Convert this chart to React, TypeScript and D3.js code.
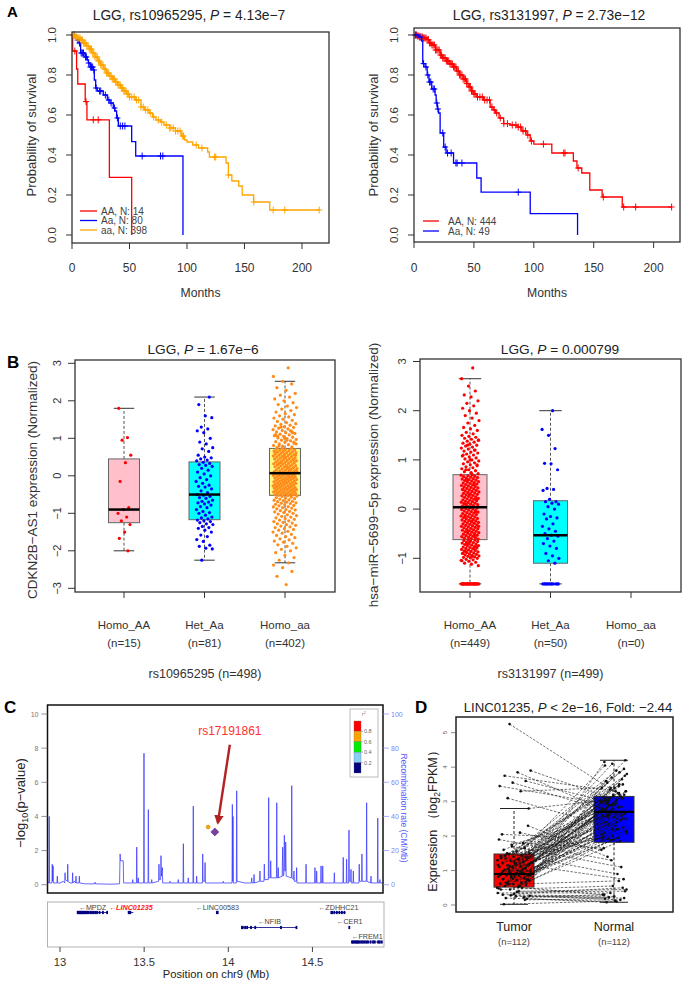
import React from "react";
import * as d3 from "d3";

const FONT = "'Liberation Sans', Arial, Helvetica, sans-serif";

// ---------------- Panel A data ----------------
const monthTicks = [0, 50, 100, 150, 200];
const survTicks = [0, 0.2, 0.4, 0.6, 0.8, 1.0];

const a1AA_t = [0, 0.6, 4, 5, 11.5, 13, 32.5, 51.9];
const a1AA_s = [1, 0.92, 0.83, 0.755, 0.667, 0.576, 0.288, 0];
const a1AA_c = [2.5, 12.2, 18.5, 22.8];

const a1Aa_t = [0, 3, 4.1, 6.1, 7.5, 11.3, 13.3, 14.2, 15.7, 18.6, 19.4, 20.6, 22, 27.2, 30.7, 33, 35.9, 37.4, 38.8, 40.3, 51.9, 55.4, 96.5];
const a1Aa_s = [1, 0.99, 0.975, 0.96, 0.91, 0.89, 0.875, 0.86, 0.84, 0.825, 0.775, 0.735, 0.72, 0.7, 0.675, 0.66, 0.635, 0.62, 0.585, 0.545, 0.467, 0.395, 0];
const a1Aa_c = [2, 5, 6.5, 8, 9, 10, 11.8, 12.5, 14.5, 16, 17, 18, 19, 21, 24, 25, 29, 32, 34, 37, 39.5, 42, 44, 46, 61, 77, 79];

const a1aa_t = [0, 2.5, 5, 7.5, 10, 12.5, 15, 17.5, 20, 22.5, 25, 27.5, 30, 32.5, 35, 37.5, 40, 42.5, 45, 47.5, 50, 55, 60, 63, 67, 70, 73, 77, 80, 85, 90, 95, 98, 100, 105, 110, 118, 119.5, 134, 136, 139, 145, 148, 158, 172];
const a1aa_s = [1, 0.99, 0.985, 0.975, 0.96, 0.945, 0.93, 0.91, 0.89, 0.87, 0.85, 0.83, 0.81, 0.795, 0.78, 0.765, 0.75, 0.735, 0.72, 0.705, 0.69, 0.675, 0.64, 0.625, 0.61, 0.59, 0.575, 0.565, 0.55, 0.535, 0.52, 0.495, 0.475, 0.465, 0.45, 0.435, 0.415, 0.39, 0.36, 0.3, 0.27, 0.245, 0.2, 0.165, 0.125];
const a1aa_c = [1, 2, 3, 4, 5, 6, 7, 8, 9, 10, 11, 12, 13, 14, 15, 16, 17, 18, 19, 20, 21, 22, 23, 24, 25, 26, 27, 28, 29, 30, 31, 32, 33, 34, 35, 36, 37, 38, 39, 40, 41, 42, 43, 44, 45, 46, 47, 48, 49, 50, 52, 54, 56, 58, 60, 62, 64, 66, 68, 71, 75, 78, 82, 85, 86, 88, 90, 92, 94, 96, 97, 108, 113, 124, 125, 136, 158, 175, 185, 215];

const a2AA_t = [0, 2.5, 5, 7.5, 10.6, 13, 15, 18, 21.8, 24, 27, 30, 33, 35.5, 38, 41, 44, 46, 48, 50, 52.4, 58, 63.6, 66, 68, 71, 74.8, 80, 86, 90, 94.3, 97, 100, 115, 133, 136, 140, 146.7, 157, 173.8];
const a2AA_s = [1, 0.995, 0.99, 0.985, 0.977, 0.96, 0.95, 0.925, 0.9, 0.885, 0.87, 0.855, 0.84, 0.82, 0.8, 0.78, 0.757, 0.74, 0.72, 0.705, 0.69, 0.675, 0.64, 0.625, 0.61, 0.585, 0.557, 0.55, 0.54, 0.52, 0.5, 0.47, 0.454, 0.41, 0.37, 0.335, 0.31, 0.225, 0.19, 0.14];
const a2AA_c = [1, 2, 3, 4, 5, 6, 7, 8, 9, 10, 11, 12, 13, 14, 15, 16, 17, 18, 19, 20, 21, 22, 23, 24, 25, 26, 27, 28, 29, 30, 31, 32, 33, 34, 35, 36, 37, 38, 39, 40, 41, 42, 43, 44, 45, 46, 47, 48, 49, 50, 51, 53, 55, 57, 59, 61, 63, 65, 67, 69, 72, 75, 78, 82, 85, 87, 89, 91, 93, 95, 98, 108, 125, 126, 137, 158, 175, 185, 215];

const a2Aa_t = [0, 4, 6.4, 7.3, 9.2, 11, 12.5, 14.8, 17.6, 18.5, 19.5, 20.5, 21.8, 24.8, 26.8, 33, 52.4, 56, 97, 136.5];
const a2Aa_s = [1, 0.99, 0.97, 0.857, 0.84, 0.8, 0.765, 0.73, 0.7, 0.66, 0.63, 0.61, 0.51, 0.44, 0.41, 0.36, 0.285, 0.214, 0.107, 0];
const a2Aa_c = [1.5, 5, 8, 10, 11.5, 13, 14, 16, 17, 19, 20, 24, 26, 28, 31, 35, 36, 40, 87];

const a1Legend = ["AA, N: 14", "Aa, N: 80", "aa, N: 398"];
const a2Legend = ["AA, N: 444", "Aa, N: 49"];

// ---------------- Panel B data ----------------
const bCats = ["Homo_AA", "Het_Aa", "Homo_aa"];
const bLeftN = ["(n=15)", "(n=81)", "(n=402)"];
const bRightN = ["(n=449)", "(n=50)", "(n=0)"];
const bLeftTicks = [-3, -2, -1, 0, 1, 2, 3];
const bRightTicks = [-1, 0, 1, 2, 3];

const bLeftLow = [-2.0, -2.25, -2.32];
const bLeftQ1 = [-1.25, -1.17, -0.52];
const bLeftMed = [-0.9, -0.5, 0.07];
const bLeftQ3 = [0.45, 0.37, 0.73];
const bLeftHigh = [1.8, 2.1, 2.52];

const bRightLow = [-1.52, -1.52];
const bRightQ1 = [-0.62, -1.1];
const bRightMed = [0.04, -0.53];
const bRightQ3 = [0.7, 0.17];
const bRightHigh = [2.65, 2.0];

const bL_AA = [1.8, 1.02, 0.95, 0.55, 0.35, -0.15, -0.85, -0.9, -1.0, -1.1, -1.2, -1.3, -1.5, -1.67, -2.0];
const bL_Aa = [-2.25, -1.95, -1.93, -1.88, -1.85, -1.75, -1.7, -1.62, -1.58, -1.5, -1.45, -1.4, -1.38, -1.35, -1.3, -1.28, -1.25, -1.22, -1.2, -1.18,
  -1.15, -1.12, -1.1, -1.05, -1.0, -0.98, -0.95, -0.9, -0.85, -0.82, -0.78, -0.75, -0.72, -0.7, -0.68, -0.65, -0.6, -0.58, -0.55, -0.52, -0.5,
  -0.45, -0.4, -0.35, -0.3, -0.28, -0.25, -0.2, -0.15, -0.1, -0.05, 0.0, 0.05, 0.1, 0.15, 0.2, 0.25, 0.28, 0.3, 0.33, 0.36,
  0.4, 0.42, 0.45, 0.48, 0.5, 0.55, 0.65, 0.72, 0.75, 0.85, 0.9, 1.0, 1.15, 1.2, 1.25, 1.3, 1.55, 1.6, 1.9, 2.1];
const bL_aa = [-2.9, -2.68, -2.55, -2.45, -2.38, -2.32, -2.25, -2.18, -2.12, -2.05, -2.0, -1.96, -1.92, -1.88, -1.84, -1.8, -1.77, -1.74, -1.71, -1.68,
  -1.65, -1.62, -1.59, -1.56, -1.53, -1.5, -1.48, -1.45, -1.43, -1.41, -1.38, -1.36, -1.34, -1.32, -1.3, -1.28, -1.26, -1.24, -1.22, -1.2,
  -1.18, -1.16, -1.14, -1.12, -1.1, -1.08, -1.06, -1.04, -1.02, -1.0, -0.98, -0.96, -0.95, -0.93, -0.91, -0.9, -0.88, -0.86, -0.85, -0.83,
  -0.82, -0.8, -0.79, -0.77, -0.76, -0.74, -0.73, -0.72, -0.7, -0.69, -0.68, -0.66, -0.65, -0.64, -0.62, -0.61, -0.6, -0.58, -0.57, -0.55,
  -0.54, -0.53, -0.52, -0.51, -0.5, -0.5, -0.49, -0.48, -0.47, -0.47, -0.46, -0.45, -0.44, -0.43, -0.43, -0.42, -0.41, -0.4, -0.39, -0.39,
  -0.38, -0.37, -0.36, -0.35, -0.35, -0.34, -0.33, -0.32, -0.31, -0.31, -0.3, -0.29, -0.28, -0.27, -0.27, -0.26, -0.25, -0.24, -0.23, -0.23,
  -0.22, -0.21, -0.2, -0.19, -0.19, -0.18, -0.17, -0.16, -0.15, -0.15, -0.14, -0.13, -0.12, -0.11, -0.11, -0.1, -0.09, -0.08, -0.07, -0.07,
  -0.06, -0.05, -0.04, -0.03, -0.03, -0.02, -0.01, 0.0, 0.01, 0.01, 0.02, 0.03, 0.04, 0.05, 0.05, 0.06, 0.07, 0.07,
  0.08, 0.09, 0.1, 0.11, 0.12, 0.13, 0.14, 0.15, 0.16, 0.17, 0.18, 0.19, 0.2, 0.21, 0.22, 0.23, 0.24, 0.25, 0.26, 0.27,
  0.28, 0.29, 0.3, 0.31, 0.32, 0.33, 0.34, 0.35, 0.36, 0.37, 0.38, 0.39, 0.4, 0.41, 0.42, 0.43, 0.44, 0.45, 0.46, 0.47,
  0.48, 0.49, 0.5, 0.51, 0.52, 0.53, 0.54, 0.55, 0.56, 0.57, 0.58, 0.59, 0.6, 0.61, 0.62, 0.63, 0.64, 0.65, 0.66, 0.67,
  0.68, 0.69, 0.7, 0.71, 0.72, 0.73, 0.12, 0.22, 0.32, 0.42, 0.52, 0.62, 0.15, 0.35, 0.55, 0.25,
  0.75, 0.77, 0.79, 0.81, 0.83, 0.85, 0.87, 0.89, 0.91, 0.93, 0.95, 0.97, 0.99, 1.01, 1.03, 1.05, 1.07, 1.09, 1.11, 1.13,
  1.15, 1.17, 1.19, 1.21, 1.23, 1.25, 1.27, 1.29, 1.31, 1.33, 1.35, 1.37, 1.39, 1.42, 1.45, 1.48, 1.51, 1.54, 1.57, 1.6,
  1.63, 1.66, 1.7, 1.74, 1.78, 1.82, 1.86, 1.9, 1.95, 2.0, 2.05, 2.1, 2.15, 2.2, 2.28, 2.35, 2.45, 2.52, 2.65, 2.88,
  0.8, 0.9, 1.0, 1.1, 1.2, 1.3, 0.85, 0.95, 1.05, 1.15];

const bR_AA = [-1.52, -1.52, -1.52, -1.52, -1.52, -1.52, -1.52, -1.52, -1.52, -1.52, -1.52, -1.52, -1.52, -1.52, -1.52, -1.52, -1.52, -1.52, -1.52, -1.52, -1.52, -1.52, -1.52, -1.52,
  -1.15, -1.12, -1.1, -1.08, -1.06, -1.05, -1.03, -1.02, -1.0, -0.99, -0.98, -0.97, -0.96, -0.95, -0.94, -0.93, -0.92, -0.91, -0.9, -0.89,
  -0.88, -0.87, -0.86, -0.85, -0.84, -0.83, -0.82, -0.81, -0.8, -0.79, -0.78, -0.77, -0.76, -0.75, -0.74, -0.73, -0.72, -0.71, -0.7, -0.69,
  -0.68, -0.67, -0.66, -0.65, -0.64, -0.63, -0.62, -1.04, -0.96, -0.86, -0.76, -0.66, -0.9, -0.8, -0.7,
  -0.61, -0.6, -0.59, -0.58, -0.57, -0.56, -0.55, -0.54, -0.53, -0.52, -0.51, -0.5, -0.49, -0.48, -0.47, -0.46, -0.45, -0.44, -0.43, -0.42,
  -0.41, -0.4, -0.39, -0.38, -0.37, -0.36, -0.35, -0.34, -0.33, -0.32, -0.31, -0.3, -0.29, -0.28, -0.27, -0.26, -0.25, -0.24, -0.23, -0.22,
  -0.21, -0.2, -0.19, -0.18, -0.17, -0.16, -0.15, -0.14, -0.13, -0.12, -0.11, -0.1, -0.09, -0.08, -0.07, -0.06, -0.05, -0.04, -0.03, -0.02,
  -0.01, 0.0, 0.01, 0.02, 0.03, 0.04, -0.55, -0.45, -0.35, -0.25, -0.15, -0.05,
  0.05, 0.06, 0.07, 0.08, 0.09, 0.1, 0.11, 0.12, 0.13, 0.14, 0.15, 0.16, 0.17, 0.18, 0.19, 0.2, 0.21, 0.22, 0.23, 0.24,
  0.25, 0.26, 0.27, 0.28, 0.29, 0.3, 0.31, 0.32, 0.33, 0.34, 0.35, 0.36, 0.37, 0.38, 0.39, 0.4, 0.41, 0.42, 0.43, 0.44,
  0.45, 0.46, 0.47, 0.48, 0.49, 0.5, 0.51, 0.52, 0.53, 0.54, 0.55, 0.56, 0.57, 0.58, 0.59, 0.6, 0.61, 0.62, 0.63, 0.64,
  0.65, 0.66, 0.67, 0.68, 0.69, 0.7, 0.1, 0.2, 0.3, 0.4, 0.5, 0.6,
  0.72, 0.74, 0.76, 0.78, 0.8, 0.82, 0.84, 0.86, 0.88, 0.9, 0.92, 0.94, 0.96, 0.98, 1.0, 1.02, 1.04, 1.06, 1.08, 1.1,
  1.12, 1.14, 1.16, 1.18, 1.2, 1.22, 1.24, 1.26, 1.28, 1.3, 1.32, 1.34, 1.36, 1.38, 1.4, 1.42, 1.44, 1.46, 1.48, 1.5,
  1.53, 1.56, 1.6, 1.63, 1.66, 1.7, 1.75, 1.8, 1.85, 1.9, 1.95, 2.0, 2.05, 2.1, 2.15, 2.2, 2.28, 2.32, 2.4, 2.5,
  2.65, 2.87, 0.8, 0.9, 1.0, 1.1, 1.2, 1.3, 1.4];
const bR_Aa = [-1.52, -1.52, -1.52, -1.52, -1.52, -1.52, -1.52, -1.52, -1.52, -1.52, -1.52, -1.52,
  -1.1, -1.05, -1.0, -0.95, -0.9, -0.8, -0.75, -0.7, -0.65, -0.6, -0.55, -0.53, -0.5, -0.45, -0.4, -0.35, -0.3, -0.2, -0.18, -0.15, -0.1,
  0.0, 0.05, 0.1, 0.12, 0.15, 0.15, 0.2, 0.38, 0.4, 0.42, 0.8, 0.92, 0.93, 1.23, 1.5, 1.62, 2.0];

// ---------------- Panel C data ----------------
const cPTicks = [0, 2, 4, 6, 8, 10];
const cRTicks = [0, 20, 40, 60, 80, 100];
const cXTicks = [13, 13.5, 14, 14.5];
const cXTickLabels = ["13", "13.5", "14", "14.5"];
const snpPos = [13.88, 13.92];
const snpLogP = [3.38, 3.09];
const snpColor = ["#FFA500", "#7B3FA0"];
const ldColors = ["#FF0000", "#FFA500", "#00EE00", "#87CEFA", "#000080"];
const ldLabels = ["0.8", "0.6", "0.4", "0.2"];

const recombination: [number, number][] = [
  [12.924, 3], [12.93, 1], [12.934, 1], [12.936, 40], [12.938, 1], [12.952, 1], [12.954, 12], [12.956, 2], [12.959, 11], [12.961, 1],
  [12.982, 1], [12.984, 5], [12.986, 1], [13.0, 1], [13.02, 2], [13.028, 1], [13.03, 7], [13.032, 3], [13.044, 2], [13.046, 12], [13.048, 2],
  [13.06, 1], [13.073, 1], [13.075, 7], [13.077, 1], [13.085, 2], [13.093, 1], [13.095, 5], [13.097, 1], [13.113, 1], [13.115, 5], [13.117, 1],
  [13.15, 0.5], [13.206, 0.5], [13.208, 1.5], [13.21, 0.5], [13.3, 0.3], [13.354, 0.5], [13.357, 18], [13.36, 14], [13.376, 14], [13.378, 1],
  [13.43, 1], [13.432, 3], [13.434, 1], [13.454, 1], [13.456, 22], [13.458, 1], [13.463, 1], [13.465, 4], [13.467, 1], [13.497, 1], [13.499, 77],
  [13.501, 1], [13.523, 1], [13.525, 44], [13.527, 1], [13.543, 1], [13.545, 3], [13.547, 1], [13.586, 2], [13.588, 12], [13.59, 3], [13.598, 3],
  [13.6, 17], [13.603, 5], [13.608, 10], [13.61, 1], [13.652, 1], [13.654, 2], [13.656, 1], [13.7, 1], [13.703, 3], [13.705, 1], [13.731, 1],
  [13.733, 24], [13.735, 1], [13.76, 1], [13.762, 4], [13.764, 1], [13.79, 1], [13.792, 46], [13.794, 1], [13.81, 1], [13.812, 5], [13.814, 1],
  [13.846, 1], [13.848, 18], [13.85, 2], [13.86, 2], [13.862, 13], [13.864, 1], [13.9, 1], [13.968, 1], [13.97, 2], [13.972, 1], [14.022, 1],
  [14.024, 47], [14.026, 2], [14.028, 40], [14.03, 1], [14.048, 1], [14.05, 55], [14.052, 2], [14.1, 1], [14.137, 1], [14.139, 4], [14.141, 1],
  [14.151, 1], [14.153, 6], [14.155, 1], [14.186, 2], [14.188, 8], [14.19, 2], [14.212, 2], [14.214, 12], [14.216, 3], [14.238, 3], [14.24, 51],
  [14.242, 4], [14.25, 4], [14.252, 14], [14.254, 4], [14.286, 4], [14.288, 48], [14.29, 4], [14.295, 4], [14.297, 10], [14.299, 4], [14.32, 5],
  [14.323, 22], [14.326, 5], [14.33, 6], [14.333, 29], [14.336, 8], [14.339, 8], [14.341, 25], [14.344, 5], [14.375, 4], [14.377, 58], [14.379, 4],
  [14.388, 3], [14.39, 8], [14.392, 2], [14.404, 2], [14.406, 10], [14.408, 1], [14.46, 1], [14.462, 12], [14.464, 1], [14.513, 1], [14.515, 10],
  [14.517, 1], [14.523, 1], [14.525, 8], [14.527, 1], [14.549, 1], [14.551, 11], [14.553, 1], [14.559, 1], [14.561, 11], [14.563, 1], [14.628, 1],
  [14.63, 7], [14.632, 1], [14.681, 1], [14.683, 16], [14.685, 1], [14.701, 1], [14.703, 15], [14.705, 1], [14.715, 1], [14.717, 32], [14.719, 2],
  [14.727, 2], [14.729, 9], [14.731, 1], [14.741, 1], [14.743, 8], [14.745, 1], [14.776, 1], [14.778, 12], [14.78, 2], [14.792, 2], [14.794, 18],
  [14.796, 2], [14.82, 2], [14.822, 48], [14.824, 2], [14.846, 1], [14.848, 5], [14.85, 1], [14.886, 1], [14.888, 39], [14.89, 1], [14.899, 1],
  [14.901, 3], [14.903, 1], [14.92, 1]];

const geneNames = ["MPDZ", "LINC01235", "LINC00583", "NFIB", "ZDHHC21", "CER1", "FREM1"];
const geneStart = [13.105, 13.406, 13.931, 14.08, 14.61, 14.718, 14.733];
const geneEnd = [13.281, 13.436, 13.938, 14.406, 14.697, 14.721, 14.915];
const geneRow = [0, 0, 0, 1, 0, 1, 2];
const geneExons = [
  [13.105, 13.11, 13.115, 13.12, 13.125, 13.13, 13.135, 13.14, 13.145, 13.15, 13.16, 13.165, 13.17, 13.18, 13.19, 13.2, 13.21, 13.22, 13.235, 13.255, 13.28],
  [13.408, 13.413, 13.418],
  [13.932, 13.937],
  [14.081, 14.086, 14.1, 14.112, 14.135, 14.16, 14.313, 14.405],
  [14.612, 14.618, 14.63, 14.645, 14.66, 14.675, 14.69],
  [14.719],
  [14.735, 14.742, 14.75, 14.758, 14.765, 14.772, 14.78, 14.79, 14.8, 14.81, 14.82, 14.83, 14.845, 14.86, 14.87, 14.89, 14.9, 14.912]
];

// ---------------- Panel D data ----------------
const dCats = ["Tumor", "Normal"];
const dN = ["(n=112)", "(n=112)"];
const dTicks = [0, 1, 2, 3, 4, 5];
const dLow = [0.02, 0.08];
const dQ1 = [0.52, 1.82];
const dMed = [0.9, 2.7];
const dQ3 = [1.48, 3.15];
const dHigh = [2.8, 4.2];
const dTumor = [5.25, 3.9, 3.85, 3.75, 3.6, 3.55, 3.45, 3.3, 3.1, 2.8,
  0.25, 0.3, 0.22, 0.28, 0.35, 0.4, 0.2, 0.18, 0.32, 0.45, 0.5, 0.6, 0.27, 0.38, 0.02, 0.15,
  1.7, 1.9, 2.1, 1.5, 2.3, 1.2, 2.05, 1.8,
  0.45, 0.5, 0.52, 0.55, 0.58, 0.6, 0.62, 0.65, 0.68, 0.7,
  0.72, 0.75, 0.78, 0.8, 0.82, 0.85, 0.87, 0.88, 0.9, 0.9,
  0.92, 0.95, 0.97, 1.0, 1.02, 1.05, 1.08, 1.1, 1.12, 1.15,
  1.18, 1.2, 1.22, 1.25, 1.28, 1.3, 1.32, 1.35, 1.38, 1.4,
  1.42, 1.45, 1.48, 1.5, 1.55, 1.6, 1.65, 1.75, 0.48, 0.56,
  0.63, 0.73, 0.83, 0.93, 1.03, 1.13, 1.23, 1.33, 1.43, 0.66,
  0.76, 0.86, 0.96, 1.06, 0.88, 0.92, 0.98, 0.78, 0.84, 1.16,
  0.54, 0.64, 0.74, 1.26, 1.36, 0.94, 1.0, 0.86];
const dNormal = [3.2, 3.1, 2.5, 3.3, 3.0, 2.6, 2.9, 3.4, 2.2, 3.05,
  0.2, 0.25, 0.3, 0.15, 0.35, 0.45, 0.1, 0.08, 0.5, 0.55, 0.3, 0.7, 0.22, 0.4, 0.12, 0.18,
  1.1, 1.3, 1.6, 0.9, 1.4, 0.75, 1.9, 1.65,
  1.85, 2.9, 3.3, 2.2, 3.6, 2.5, 4.1, 2.8, 1.95, 3.0,
  2.65, 3.4, 2.1, 3.15, 2.75, 3.8, 2.4, 2.95, 2.7, 3.2,
  1.9, 3.5, 2.6, 4.2, 2.3, 3.1, 2.85, 3.7, 2.05, 3.25,
  2.55, 3.95, 2.7, 3.05, 2.45, 3.35, 2.15, 3.9, 2.8, 3.1,
  2.0, 2.6, 3.45, 2.35, 3.75, 2.9, 4.05, 2.7, 1.88, 3.0,
  2.5, 3.55, 2.25, 3.15, 2.75, 3.85, 2.65, 3.3, 2.95, 2.4,
  3.65, 2.2, 3.0, 2.85, 1.92, 3.2, 2.55, 4.15, 2.7, 3.4,
  2.1, 3.05, 2.6, 3.5, 2.8, 1.98, 3.25, 2.9];

// ---------------- helpers ----------------
const jit = (i: number, seed = 0.31) => ((i * 0.6180339887 + seed) % 1) - 0.5;
const survAt = (t: number[], s: number[], time: number) => s[Math.max(0, d3.bisectRight(t, time) - 1)];

type Curve = { t: number[]; s: number[]; end: number; censor: number[]; color: string };

function KMPanel(props: {
  l: number; r: number; top: number; bottom: number; xMax: number; titleX: number;
  title: string; pval: string; curves: Curve[]; legend: string[]; legX0: number; legX1: number; legTX: number; legY: number[];
}) {
  const { l, r, top, bottom, xMax, curves } = props;
  const x = d3.scaleLinear().domain([0, xMax]).range([l, r]);
  const y = d3.scaleLinear().domain([0, 1]).range([235, 35]);
  const line = d3.line<[number, number]>().x(d => x(d[0])).y(d => y(d[1])).curve(d3.curveStepAfter);
  return (
    <g fontFamily={FONT}>
      {curves.map((c, k) => {
        const pts: [number, number][] = c.t.map((ti, i) => [ti, c.s[i]]);
        if (c.end > c.t[c.t.length - 1]) pts.push([c.end, c.s[c.s.length - 1]]);
        return (
          <g key={k}>
            <path d={line(pts) || ""} fill="none" stroke={c.color} strokeWidth={1.3} />
            {c.censor.map((ct, j) => {
              const cx = x(ct), cy = y(survAt(c.t, c.s, ct));
              return <path key={j} d={`M${cx - 3},${cy}H${cx + 3}M${cx},${cy - 3.5}V${cy + 3.5}`} stroke={c.color} strokeWidth={1} />;
            })}
          </g>
        );
      })}
      <rect x={l} y={top} width={r - l} height={bottom - top} fill="none" stroke="#333" strokeWidth={1.3} />
      {monthTicks.map(v => (
        <g key={v}>
          <line x1={x(v)} x2={x(v)} y1={bottom} y2={bottom + 6} stroke="#333" />
          <text x={x(v)} y={271.5} textAnchor="middle" fontSize={12} fill="#333">{v}</text>
        </g>
      ))}
      {survTicks.map(v => (
        <g key={v}>
          <line x1={l - 6} x2={l} y1={y(v)} y2={y(v)} stroke="#333" />
          <text transform={`translate(${l - 16},${y(v)}) rotate(-90)`} textAnchor="middle" fontSize={11.5} fill="#333">{v.toFixed(1)}</text>
        </g>
      ))}
      <text x={(l + r) / 2} y={296.5} textAnchor="middle" fontSize={12.2} fill="#333">Months</text>
      <text transform={`translate(${l - 36},${(y(0) + y(1)) / 2}) rotate(-90)`} textAnchor="middle" fontSize={13} fill="#333">Probability of survival</text>
      <text x={props.titleX} y={19.5} textAnchor="middle" fontSize={13.8} fill="#222">
        {props.title}<tspan fontStyle="italic">P</tspan>{" = " + props.pval}
      </text>
      {props.legend.map((name, i) => (
        <g key={name}>
          <line x1={props.legX0} x2={props.legX1} y1={props.legY[i]} y2={props.legY[i]} stroke={curves[i].color} strokeWidth={1.3} />
          <text x={props.legTX} y={props.legY[i] + 3.5} fontSize={10} fill="#444">{name}</text>
        </g>
      ))}
    </g>
  );
}

function BoxPanel(props: {
  l: number; r: number; top: number; bottom: number; xr: [number, number]; yDom: [number, number]; yRange: [number, number];
  ticks: number[]; title: string; pval: string; titleX: number; ylab: string; ylabX: number; ylabY: number; boxW: number; fills: string[]; pcols: string[];
  low: number[]; q1: number[]; med: number[]; q3: number[]; high: number[]; data: number[][]; jw: number[]; ns: string[]; snp: string;
}) {
  const { l, r, top, bottom, boxW } = props;
  const x = d3.scalePoint<string>().domain(bCats).range(props.xr);
  const y = d3.scaleLinear().domain(props.yDom).range(props.yRange);
  const cap = boxW * 0.33;
  return (
    <g fontFamily={FONT}>
      {props.q1.map((_, g) => {
        const cx = x(bCats[g]) as number;
        return (
          <g key={g}>
            <line x1={cx} x2={cx} y1={y(props.q3[g])} y2={y(props.high[g])} stroke="#555" strokeDasharray="3,2" />
            <line x1={cx} x2={cx} y1={y(props.q1[g])} y2={y(props.low[g])} stroke="#555" strokeDasharray="3,2" />
            <line x1={cx - cap} x2={cx + cap} y1={y(props.high[g])} y2={y(props.high[g])} stroke="#333" />
            <line x1={cx - cap} x2={cx + cap} y1={y(props.low[g])} y2={y(props.low[g])} stroke="#333" />
            <rect x={cx - boxW / 2} y={y(props.q3[g])} width={boxW} height={y(props.q1[g]) - y(props.q3[g])} fill={props.fills[g]} stroke="#666" />
          </g>
        );
      })}
      {props.data.map((arr, g) => {
        const cx = x(bCats[g]) as number;
        return arr.map((v, i) => (
          <circle key={`${g}-${i}`} cx={cx + jit(i, 0.13 + g * 0.21) * 2 * props.jw[g]} cy={y(v)} r={1.6} fill={props.pcols[g]} />
        ));
      })}
      {props.med.map((m, g) => {
        const cx = x(bCats[g]) as number;
        return <line key={g} x1={cx - boxW / 2} x2={cx + boxW / 2} y1={y(m)} y2={y(m)} stroke="#000" strokeWidth={2.5} />;
      })}
      <rect x={l} y={top} width={r - l} height={bottom - top} fill="none" stroke="#333" strokeWidth={1.3} />
      {props.ticks.map(v => (
        <g key={v}>
          <line x1={l - 7} x2={l} y1={y(v)} y2={y(v)} stroke="#333" />
          <text transform={`translate(${l - 14},${y(v)}) rotate(-90)`} textAnchor="middle" fontSize={11} fill="#333">{v < 0 ? "\u2212" + Math.abs(v) : v}</text>
        </g>
      ))}
      {bCats.map((c, i) => (
        <g key={c}>
          <line x1={x(c)} x2={x(c)} y1={bottom} y2={bottom + 6} stroke="#333" />
          <text x={x(c)} y={628.5} textAnchor="middle" fontSize={11.5} fill="#333">{c}</text>
          <text x={x(c)} y={646.5} textAnchor="middle" fontSize={11.5} fill="#333">{props.ns[i]}</text>
        </g>
      ))}
      <text x={(l + r) / 2} y={677.5} textAnchor="middle" fontSize={12.5} fill="#333">{props.snp}</text>
      <text x={props.titleX} y={353.5} textAnchor="middle" fontSize={13.7} fill="#222">
        {props.title}<tspan fontStyle="italic">P</tspan>{" = " + props.pval}
      </text>
      <text transform={`translate(${props.ylabX},${props.ylabY}) rotate(-90)`} textAnchor="middle" fontSize={13.5} fill="#333">{props.ylab}</text>
    </g>
  );
}

function PanelC() {
  const L = 47.5, R = 383, T = 705, B = 893;
  const x = d3.scaleLinear().domain([13, 14.5]).range([60, 312.45]);
  const yP = d3.scaleLinear().domain([0, 10]).range([884.7, 714]);
  const yR = d3.scaleLinear().domain([0, 100]).range([884.7, 714]);
  const recLine = d3.line<[number, number]>().x(d => x(d[0])).y(d => yR(d[1]));
  const rowLabelY = [909.5, 924, 939];
  const rowBodyY = [912.5, 927.5, 942];
  const ldY = d3.scaleLinear().domain([0, 5]).range([721, 773]);
  const ax = x(snpPos[1]);
  return (
    <g fontFamily={FONT}>
      <defs>
        <clipPath id="cclip"><rect x={L} y={T} width={R - L} height={B - T} /></clipPath>
        <marker id="arrowC" viewBox="0 0 10 10" refX="8" refY="5" markerWidth="4" markerHeight="4" orient="auto">
          <path d="M0,0 L10,5 L0,10 z" fill="#B22222" />
        </marker>
      </defs>
      <path d={recLine(recombination) || ""} fill="none" stroke="#3a3aff" strokeWidth={0.9} opacity={0.85} clipPath="url(#cclip)" />
      <circle cx={x(snpPos[0])} cy={yP(snpLogP[0])} r={2} fill={snpColor[0]} stroke="#b07000" strokeWidth={0.4} />
      <path d={`M${x(snpPos[1])},${yP(snpLogP[1]) - 4}L${x(snpPos[1]) + 4},${yP(snpLogP[1])}L${x(snpPos[1])},${yP(snpLogP[1]) + 4}L${x(snpPos[1]) - 4},${yP(snpLogP[1])}Z`} fill={snpColor[1]} stroke="#3a1a60" strokeWidth={0.5} />
      <line x1={ax + 15} y1={yP(8.2)} x2={ax + 3} y2={yP(snpLogP[1]) - 9} stroke="#B22222" strokeWidth={2.4} markerEnd="url(#arrowC)" />
      <text x={ax + 15} y={735} textAnchor="middle" fontSize={12} fill="#FF3030">rs17191861</text>
      <rect x={L} y={T} width={R - L} height={B - T} fill="none" stroke="#111" strokeWidth={1.5} />
      {cPTicks.map(v => (
        <g key={v}>
          <line x1={L - 6} x2={L} y1={yP(v)} y2={yP(v)} stroke="#666" strokeWidth={0.7} />
          <text x={L - 9} y={yP(v) + 2.5} textAnchor="end" fontSize={7} fill="#777">{v}</text>
        </g>
      ))}
      {cRTicks.map(v => (
        <g key={v}>
          <line x1={R} x2={R + 6} y1={yR(v)} y2={yR(v)} stroke="#8888ff" strokeWidth={0.7} />
          <text x={R + 8} y={yR(v) + 2.5} fontSize={7} fill="#8080ff">{v}</text>
        </g>
      ))}
      <text transform={`translate(25,803) rotate(-90)`} textAnchor="middle" fontSize={13} fill="#222">
        {"\u2212log"}<tspan fontSize={9} dy={3}>10</tspan><tspan dy={-3}>(p{"\u2212"}value)</tspan>
      </text>
      <text transform={`translate(401,808) rotate(90)`} textAnchor="middle" fontSize={8.5} fill="#5a5aff">Recombination rate (CM/Mb)</text>
      <rect x={350} y={709} width={28} height={68} fill="#fff" stroke="#aaa" strokeWidth={0.8} />
      <text x={362} y={716} fontSize={5} fill="#666">r<tspan fontSize={3.5} dy={-2}>2</tspan></text>
      {ldColors.map((c, i) => (
        <rect key={c} x={354} y={ldY(i)} width={7} height={ldY(i + 1) - ldY(i)} fill={c} stroke="#666" strokeWidth={0.3} />
      ))}
      {ldLabels.map((lab, i) => (
        <g key={lab}>
          <line x1={361} x2={363} y1={ldY(i + 1)} y2={ldY(i + 1)} stroke="#666" strokeWidth={0.4} />
          <text x={364} y={ldY(i + 1) + 2} fontSize={5.5} fill="#666">{lab}</text>
        </g>
      ))}
      <rect x={L} y={902} width={R - L + 1} height={45} fill="#fff" stroke="#aaa" strokeWidth={0.9} />
      {geneNames.map((g, i) => {
        const x0 = x(geneStart[i]), x1 = x(geneEnd[i]);
        const cy = rowBodyY[geneRow[i]];
        const mid = (x0 + x1) / 2;
        const isTarget = g === "LINC01235";
        return (
          <g key={g}>
            <line x1={x0} x2={x1} y1={cy} y2={cy} stroke="#000080" strokeWidth={0.8} />
            {geneExons[i].map((e, j) => (
              <rect key={j} x={x(e) - 0.9} y={cy - 1.6} width={1.8} height={3.2} fill="#000080" />
            ))}
            <text x={mid} y={rowLabelY[geneRow[i]]} textAnchor="middle" fontSize={7.2} fill={isTarget ? "#FF2020" : "#444"}
              fontWeight={isTarget ? "bold" : "normal"} fontStyle={isTarget ? "italic" : "normal"}>{"\u2190" + g}</text>
          </g>
        );
      })}
      {cXTicks.map((v, i) => (
        <g key={v}>
          <line x1={x(v)} x2={x(v)} y1={947} y2={952} stroke="#444" />
          <text x={x(v)} y={966} textAnchor="middle" fontSize={11.2} fill="#333">{cXTickLabels[i]}</text>
        </g>
      ))}
      <text x={216} y={978} textAnchor="middle" fontSize={11.2} fill="#222">Position on chr9 (Mb)</text>
    </g>
  );
}

function PanelD() {
  const L = 456, R = 673, T = 717, B = 912;
  const x = d3.scalePoint<string>().domain(dCats).range([514, 614]);
  const y = d3.scaleLinear().domain([0, 5]).range([905, 732.7]);
  const bw = 40;
  const jw = [17, 13];
  const tx = (i: number) => (x("Tumor") as number) + jit(i, 0.37) * 2 * jw[0];
  const nx = (i: number) => (x("Normal") as number) + jit(i, 0.71) * 2 * jw[1];
  const fills = ["#FF0000", "#0000FF"];
  return (
    <g fontFamily={FONT}>
      {dCats.map((c, g) => {
        const cx = x(c) as number;
        return (
          <g key={c}>
            <line x1={cx} x2={cx} y1={y(dQ3[g])} y2={y(dHigh[g])} stroke="#222" strokeDasharray="3,2" />
            <line x1={cx} x2={cx} y1={y(dQ1[g])} y2={y(dLow[g])} stroke="#222" strokeDasharray="3,2" />
            <line x1={cx - 14} x2={cx + 14} y1={y(dHigh[g])} y2={y(dHigh[g])} stroke="#222" />
            <line x1={cx - 14} x2={cx + 14} y1={y(dLow[g])} y2={y(dLow[g])} stroke="#222" />
            <rect x={cx - bw / 2} y={y(dQ3[g])} width={bw} height={y(dQ1[g]) - y(dQ3[g])} fill={fills[g]} stroke="#333" />
          </g>
        );
      })}
      {dTumor.map((v, i) => (
        <line key={i} x1={tx(i)} y1={y(v)} x2={nx(i)} y2={y(dNormal[i])} stroke="#111" strokeWidth={0.6} strokeDasharray="2.5,1.5" />
      ))}
      {dTumor.map((v, i) => <circle key={"t" + i} cx={tx(i)} cy={y(v)} r={1.3} fill="#111" />)}
      {dNormal.map((v, i) => <circle key={"n" + i} cx={nx(i)} cy={y(v)} r={1.3} fill="#111" />)}
      {dCats.map((c, g) => {
        const cx = x(c) as number;
        return <line key={c} x1={cx - bw / 2} x2={cx + bw / 2} y1={y(dMed[g])} y2={y(dMed[g])} stroke="#000" strokeWidth={2.2} />;
      })}
      <rect x={L} y={T} width={R - L} height={B - T} fill="none" stroke="#222" strokeWidth={1.5} />
      {dTicks.map(v => (
        <g key={v}>
          <line x1={L - 5} x2={L} y1={y(v)} y2={y(v)} stroke="#555" strokeWidth={0.7} />
          <text transform={`translate(${L - 9},${y(v)}) rotate(-90)`} textAnchor="middle" fontSize={6} fill="#555">{v}</text>
        </g>
      ))}
      {dCats.map((c, i) => (
        <g key={c}>
          <text x={x(c)} y={931} textAnchor="middle" fontSize={12.5} fill="#222">{c}</text>
          <text x={x(c)} y={945} textAnchor="middle" fontSize={9.4} fill="#444">{dN[i]}</text>
        </g>
      ))}
      <text x={568} y={712} textAnchor="middle" fontSize={13.2} fill="#222">
        {"LINC01235, "}<tspan fontStyle="italic">P</tspan>{" < 2e\u221216, Fold: \u22122.44"}
      </text>
      <text transform={`translate(437,818) rotate(-90)`} textAnchor="middle" fontSize={12.5} fill="#222">
        {"Expression \uFF08log"}<tspan fontSize={8.5} dy={2.5}>2</tspan><tspan dy={-2.5}>{"FPKM\uFF09"}</tspan>
      </text>
    </g>
  );
}

export default function App() {
  const a1Curves: Curve[] = [
    { t: a1AA_t, s: a1AA_s, end: 51.9, censor: a1AA_c, color: "#FF0000" },
    { t: a1Aa_t, s: a1Aa_s, end: 96.5, censor: a1Aa_c, color: "#0000FF" },
    { t: a1aa_t, s: a1aa_s, end: 215, censor: a1aa_c, color: "#FFA500" },
  ];
  const a2Curves: Curve[] = [
    { t: a2AA_t, s: a2AA_s, end: 215, censor: a2AA_c, color: "#FF0000" },
    { t: a2Aa_t, s: a2Aa_s, end: 136.5, censor: a2Aa_c, color: "#0000FF" },
  ];
  return (
    <svg width={684} height={982} viewBox="0 0 684 982" style={{ position: "absolute", left: 0, top: 0, background: "#fff" }}>
      <rect x={0} y={0} width={684} height={982} fill="#fff" />
      <KMPanel l={72} r={329} top={32} bottom={243} xMax={223.5} titleX={189} title="LGG, rs10965295, " pval={"4.13e\u22127"}
        curves={a1Curves} legend={a1Legend} legX0={80} legX1={97} legTX={101} legY={[211, 220.5, 230]} />
      <KMPanel l={414} r={680} top={28} bottom={242} xMax={222} titleX={549} title="LGG, rs3131997, " pval={"2.73e\u221212"}
        curves={a2Curves} legend={a2Legend} legX0={423} legX1={439} legTX={448} legY={[221, 231]} />
      <BoxPanel l={75} r={335} top={360} bottom={592} xr={[124, 285]} yDom={[-3, 3]} yRange={[588.3, 363.3]} ticks={bLeftTicks}
        title="LGG, " pval={"1.67e\u22126"} titleX={203} ylab={"CDKN2B\u2212AS1 expression (Normalized)"} ylabX={37} ylabY={480} boxW={31}
        fills={["#FFC0CB", "#00FFFF", "#FAFA8C"]} pcols={["#FF0000", "#0000FF", "#FF8C1A"]}
        low={bLeftLow} q1={bLeftQ1} med={bLeftMed} q3={bLeftQ3} high={bLeftHigh} data={[bL_AA, bL_Aa, bL_aa]} jw={[7, 8.5, 12]}
        ns={bLeftN} snp="rs10965295 (n=498)" />
      <BoxPanel l={420} r={681} top={359} bottom={592} xr={[470, 631]} yDom={[-1, 3]} yRange={[558.3, 361.5]} ticks={bRightTicks}
        title="LGG, " pval="0.000799" titleX={560} ylab={"hsa\u2212miR\u22125699\u22125p expression (Normalized)"} ylabX={378} ylabY={475} boxW={34}
        fills={["#FFC0CB", "#00FFFF"]} pcols={["#FF0000", "#0000FF"]}
        low={bRightLow} q1={bRightQ1} med={bRightMed} q3={bRightQ3} high={bRightHigh} data={[bR_AA, bR_Aa]} jw={[9, 8.5]}
        ns={bRightN} snp="rs3131997 (n=499)" />
      <PanelC />
      <PanelD />
      <g fontFamily={FONT} fontWeight="bold" fill="#000">
        <text x={7} y={17} fontSize={15}>A</text>
        <text x={7} y={368} fontSize={17}>B</text>
        <text x={4} y={713} fontSize={17}>C</text>
        <text x={415} y={713} fontSize={17}>D</text>
      </g>
    </svg>
  );
}
